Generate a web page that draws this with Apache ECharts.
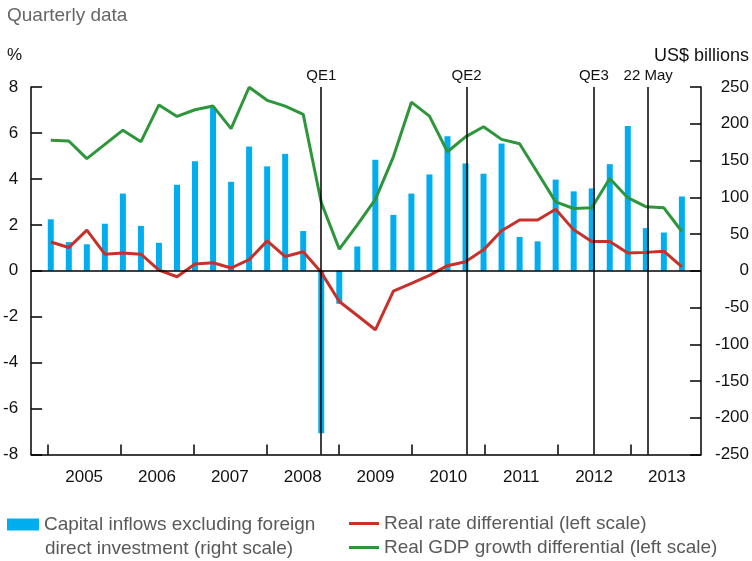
<!DOCTYPE html>
<html>
<head>
<meta charset="utf-8">
<script src="https://cdn.jsdelivr.net/npm/echarts@6/dist/echarts.min.js"></script>
<style>html,body{margin:0;padding:0;background:#fff}#chart{width:752px;height:561px}</style>
</head>
<body>
<div id="chart"></div>
<script>
// Quarterly observations, 2005 Q1 – 2013 Q4
const quarters = [
  '2005Q1','2005Q2','2005Q3','2005Q4','2006Q1','2006Q2','2006Q3','2006Q4',
  '2007Q1','2007Q2','2007Q3','2007Q4','2008Q1','2008Q2','2008Q3','2008Q4',
  '2009Q1','2009Q2','2009Q3','2009Q4','2010Q1','2010Q2','2010Q3','2010Q4',
  '2011Q1','2011Q2','2011Q3','2011Q4','2012Q1','2012Q2','2012Q3','2012Q4',
  '2013Q1','2013Q2','2013Q3','2013Q4'
];
// US$ billions (right scale)
const capitalInflows = [70,39,36,64,105,61,38,117,149,222,121,169,142,159,54,-221,
  -45,33,151,76,105,131,183,146,132,173,46,40,124,108,112,145,197,58,52,101];
// % (left scale)
const realRateDiff = [1.25,1.01,1.77,0.72,0.77,0.72,0.03,-0.26,0.29,0.35,0.12,0.48,1.3,0.62,0.83,-0.07,
  -1.34,-1.95,-2.57,-0.89,-0.55,-0.2,0.22,0.39,0.91,1.74,2.21,2.21,2.68,1.78,1.27,1.27,0.77,0.8,0.85,0.17];
const gdpGrowthDiff = [5.68,5.65,4.88,5.5,6.12,5.62,7.22,6.72,7.01,7.17,6.19,7.99,7.42,7.17,6.81,2.97,
  0.94,2.0,3.11,4.96,7.34,6.73,5.18,5.83,6.27,5.72,5.53,4.27,3.0,2.71,2.74,4.02,3.18,2.79,2.74,1.71];
const years = ['2005','2006','2007','2008','2009','2010','2011','2012','2013'];
// Policy events, in quarter-index units
const eventNames = ['QE1','QE2','QE3','22 May'];
const eventQuarter = [15, 23.06, 30.12, 33.13];

const barName = 'Capital inflows excluding foreign direct investment (right scale)';
const redName = 'Real rate differential (left scale)';
const greenName = 'Real GDP growth differential (left scale)';

const FONT = '"Liberation Sans", Arial, Helvetica, sans-serif';
const yearStart = k => 4.04 * k - 0.17;
const yearTicks = years.map((y, k) => yearStart(k));
const yearLabelPos = years.map((y, k) => (yearStart(k) + yearStart(k + 1)) / 2);

const pairs = arr => arr.map((v, i) => [i, v]);

const chart = echarts.init(document.getElementById('chart'), null, {renderer: 'canvas'});
chart.setOption({
  animation: false,
  textStyle: {fontFamily: FONT},
  title: [
    {text: 'Quarterly data', left: 7, top: 6, padding: 0,
     textStyle: {fontSize: 19, fontWeight: 'normal', color: '#666666', fontFamily: FONT}},
    {text: '%', left: 7, top: 47, padding: 0,
     textStyle: {fontSize: 17, fontWeight: 'normal', color: '#111', fontFamily: FONT}},
    {text: 'US$ billions', right: 3, top: 47, padding: 0,
     textStyle: {fontSize: 18, fontWeight: 'normal', color: '#111', fontFamily: FONT}}
  ],
  legend: [
    {data: [barName], left: 7, top: 515, padding: 0, icon: 'rect', itemWidth: 32, itemHeight: 12,
     formatter: () => 'Capital inflows excluding foreign',
     textStyle: {fontSize: 19, color: '#595959', fontFamily: FONT}},
    {data: [redName, greenName], orient: 'vertical', left: 349, top: 514, padding: 0,
     icon: 'rect', itemWidth: 30, itemHeight: 3, itemGap: 5,
     textStyle: {fontSize: 19, color: '#595959', fontFamily: FONT}}
  ],
  graphic: [
    {type: 'text', left: 45, top: 539,
     style: {text: 'direct investment (right scale)', fontSize: 19, fill: '#595959', fontFamily: FONT}}
  ],
  grid: {left: 30, right: 50.3, top: 87, bottom: 106.5, containLabel: false},
  xAxis: {
    type: 'value', min: -1.09, max: 36.06,
    splitLine: {show: false},
    axisLine: {show: true, onZero: false, lineStyle: {color: '#000', width: 1.5}},
    axisTick: {show: true, inside: true, length: 10, customValues: yearTicks,
               lineStyle: {color: '#000', width: 1.5}},
    axisLabel: {customValues: yearLabelPos, fontSize: 17, color: '#111', margin: 14,
      formatter: v => { const k = yearLabelPos.findIndex(p => Math.abs(p - v) < 0.01); return k >= 0 ? years[k] : ''; }}
  },
  yAxis: [
    {type: 'value', min: -8, max: 8, interval: 2, position: 'left',
     splitLine: {show: false},
     axisLine: {show: true, onZero: false, lineStyle: {color: '#000', width: 1.5}},
     axisTick: {show: true, inside: true, length: 11, lineStyle: {color: '#000', width: 1.5}},
     axisLabel: {fontSize: 17, color: '#111', margin: 13}},
    {type: 'value', min: -250, max: 250, interval: 50, position: 'right',
     splitLine: {show: false},
     axisLine: {show: true, onZero: false, lineStyle: {color: '#000', width: 1.5}},
     axisTick: {show: true, inside: true, length: 11, lineStyle: {color: '#000', width: 1.5}},
     axisLabel: {fontSize: 17, color: '#111', margin: 48, align: 'right'}}
  ],
  series: [
    {name: barName, type: 'bar', yAxisIndex: 1, barWidth: 6, data: pairs(capitalInflows),
     itemStyle: {color: '#00AEEF'}, z: 1},
    {name: redName, type: 'line', yAxisIndex: 0, data: pairs(realRateDiff), symbol: 'none',
     lineStyle: {color: '#C8302A', width: 3}, itemStyle: {color: '#C8302A'}, z: 4,
     markLine: {silent: true, symbol: 'none', animation: false,
       lineStyle: {color: '#000', width: 1.5, type: 'solid'},
       label: {show: false},
       data: [{yAxis: 0}]}},
    {name: greenName, type: 'line', yAxisIndex: 0, data: pairs(gdpGrowthDiff), symbol: 'none',
     lineStyle: {color: '#2E963A', width: 3}, itemStyle: {color: '#2E963A'}, z: 4,
     markLine: {silent: true, symbol: 'none', animation: false,
       lineStyle: {color: '#000', width: 1.5, type: 'solid'},
       label: {show: true, position: 'end', formatter: '{b}', fontSize: 15, color: '#111', distance: 4, fontFamily: FONT},
       data: eventNames.map((n, i) => ({name: n, xAxis: eventQuarter[i]}))}}
  ]
});
</script>
</body>
</html>
